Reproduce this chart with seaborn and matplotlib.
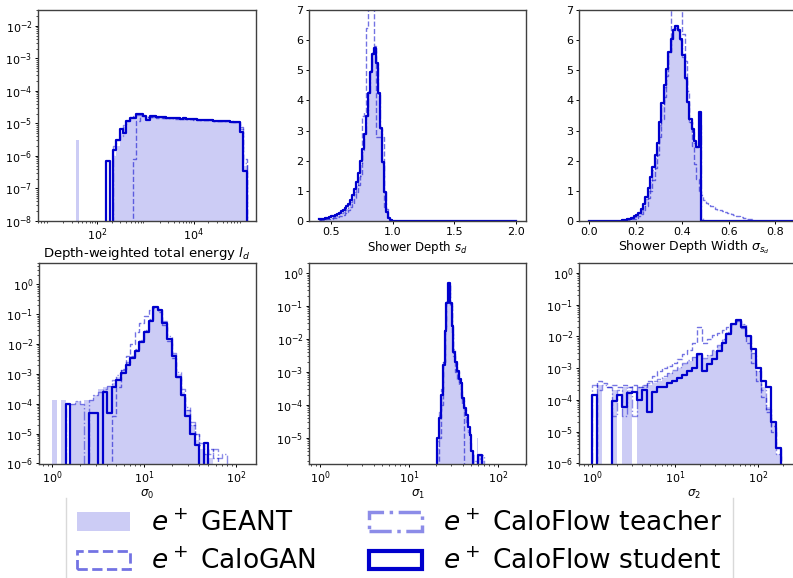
import numpy as np
import matplotlib
matplotlib.use("Agg")
import matplotlib.pyplot as plt
from matplotlib.patches import Patch
from matplotlib.lines import Line2D
import seaborn as sns

# ---- data (normalised histograms) ----
# panel 1: depth-weighted total energy l_d, log10 bin edges
ld_log_edges = np.linspace(1.566, 5.169, 53)
ld_geant = [3e-6, 0, 0, 0, 0, 0, 0, 0, 0,
            0, 0, 1e-6, 2e-6, 5e-6, 8e-6, 1.2e-5, 1.5e-5, 1.7e-5, 1.8e-5,
            1.85e-5, 1.75e-5, 1.6e-5, 1.65e-5, 1.6e-5, 1.57e-5, 1.55e-5, 1.52e-5, 1.5e-5, 1.47e-5,
            1.46e-5, 1.45e-5, 1.41e-5, 1.4e-5, 1.39e-5, 1.36e-5, 1.35e-5, 1.33e-5, 1.31e-5, 1.29e-5,
            1.28e-5, 1.26e-5, 1.24e-5, 1.22e-5, 1.21e-5, 1.2e-5, 1.18e-5, 1.17e-5, 1.15e-5, 1.13e-5,
            6e-6, 5e-7, 0]
ld_calogan = [0, 0, 0, 0, 0, 0, 0, 0, 0,
              0, 0, 0, 0, 0, 0, 0, 0, 8e-7, 1.2e-5,
              1.65e-5, 1.7e-5, 1.6e-5, 1.55e-5, 1.58e-5, 1.52e-5, 1.5e-5, 1.48e-5, 1.45e-5, 1.43e-5,
              1.42e-5, 1.4e-5, 1.38e-5, 1.36e-5, 1.35e-5, 1.33e-5, 1.32e-5, 1.3e-5, 1.28e-5, 1.27e-5,
              1.25e-5, 1.24e-5, 1.22e-5, 1.2e-5, 1.19e-5, 1.18e-5, 1.16e-5, 1.15e-5, 1.13e-5, 1.12e-5,
              8e-6, 8e-7, 0]
ld_teacher = [0, 0, 0, 0, 0, 0, 0, 0, 0,
              0, 0, 2e-6, 3e-6, 4e-6, 9e-6, 1.2e-5, 1.6e-5, 1.7e-5, 1.8e-5,
              1.8e-5, 1.7e-5, 1.6e-5, 1.62e-5, 1.6e-5, 1.56e-5, 1.54e-5, 1.52e-5, 1.49e-5, 1.47e-5,
              1.45e-5, 1.44e-5, 1.42e-5, 1.4e-5, 1.38e-5, 1.37e-5, 1.35e-5, 1.33e-5, 1.3e-5, 1.29e-5,
              1.27e-5, 1.25e-5, 1.23e-5, 1.22e-5, 1.2e-5, 1.19e-5, 1.17e-5, 1.16e-5, 1.14e-5, 1.12e-5,
              7e-6, 6e-7, 0]
ld_student = [0, 0, 0, 0, 0, 0, 0, 0, 0,
              7e-7, 0, 1.5e-6, 3e-6, 7e-6, 5e-6, 1.2e-5, 1.5e-5, 1.5e-5, 1.9e-5,
              2.0e-5, 1.75e-5, 1.3e-5, 1.75e-5, 1.65e-5, 1.6e-5, 1.55e-5, 1.57e-5, 1.5e-5, 1.48e-5,
              1.5e-5, 1.44e-5, 1.42e-5, 1.43e-5, 1.38e-5, 1.37e-5, 1.36e-5, 1.32e-5, 1.3e-5, 1.31e-5,
              1.27e-5, 1.25e-5, 1.22e-5, 1.23e-5, 1.2e-5, 1.18e-5, 1.19e-5, 1.15e-5, 1.14e-5, 1.12e-5,
              5.5e-6, 3.5e-7, 0]

# panel 2: shower depth s_d
sd_edges = np.append(np.linspace(0.4, 0.992, 38), 2.0)
sd_geant = [0.03, 0.04, 0.05, 0.06, 0.07, 0.08, 0.10, 0.12, 0.14, 0.17, 0.20, 0.24, 0.28,
            0.34, 0.40, 0.48, 0.58, 0.72, 0.90, 1.15, 1.45, 1.85, 2.30, 2.85, 3.50, 4.30,
            5.00, 5.60, 5.80, 5.20, 4.15, 3.00, 1.90, 0.95, 0.32, 0.10, 0.03, 0.0]
sd_calogan = [0.02, 0.03, 0.04, 0.05, 0.06, 0.07, 0.08, 0.09, 0.11, 0.13, 0.15, 0.18, 0.21,
              0.25, 0.30, 0.37, 0.46, 0.58, 0.75, 0.95, 1.20, 1.50, 3.50, 3.60, 6.40, 9.00,
              10.0, 9.00, 5.80, 2.80, 2.80, 2.80, 2.80, 0.45, 0.40, 0.0, 0.0, 0.0]
sd_teacher = [0.04, 0.05, 0.06, 0.07, 0.08, 0.10, 0.11, 0.13, 0.16, 0.19, 0.22, 0.26, 0.31,
              0.37, 0.44, 0.52, 0.63, 0.78, 0.96, 1.20, 1.50, 1.90, 2.35, 2.90, 3.50, 4.25,
              4.95, 5.55, 5.75, 5.20, 4.20, 3.05, 1.92, 0.96, 0.31, 0.10, 0.03, 0.0]
sd_student = [0.05, 0.07, 0.08, 0.10, 0.11, 0.13, 0.15, 0.17, 0.20, 0.23, 0.27, 0.32, 0.37,
              0.43, 0.50, 0.58, 0.70, 0.85, 1.05, 1.30, 1.60, 2.00, 2.40, 2.90, 3.50, 4.25,
              4.95, 5.55, 5.75, 5.25, 4.25, 3.10, 1.95, 0.97, 0.30, 0.10, 0.03, 0.0]

# panel 3: shower depth width
sw_edges = np.concatenate([[0.0], np.linspace(0.14, 0.71, 58), [0.9]])
sw_geant = [0.01,
            0.02, 0.03, 0.04, 0.06, 0.08, 0.12, 0.17, 0.24, 0.34, 0.48, 0.70, 0.95, 1.30, 1.65,
            2.05, 2.50, 3.15, 3.80, 4.45, 5.05, 5.65, 6.10, 6.40, 6.45, 6.30, 6.00, 5.45, 4.70,
            3.90, 3.30, 2.90, 2.60, 2.50, 3.00, 0.05,
            0, 0, 0, 0, 0, 0, 0, 0, 0, 0, 0, 0, 0, 0, 0, 0, 0, 0, 0, 0, 0, 0,
            0]
sw_calogan = [0.0,
              0.0, 0.01, 0.02, 0.03, 0.05, 0.07, 0.10, 0.15, 0.22, 0.35, 0.50, 0.75, 1.00, 1.35,
              1.75, 2.20, 2.80, 3.40, 4.10, 4.80, 5.60, 7.50, 7.80, 7.80, 7.60, 7.20, 6.20, 5.30,
              4.30, 3.30, 2.50, 1.90, 1.40, 1.00, 0.85,
              0.70, 0.60, 0.55, 0.50, 0.45, 0.40, 0.38, 0.35, 0.32, 0.30, 0.28, 0.25, 0.22, 0.20,
              0.18, 0.15, 0.12, 0.10, 0.09, 0.08, 0.06, 0.0,
              0]
sw_teacher = [0.01,
              0.02, 0.03, 0.05, 0.07, 0.09, 0.13, 0.18, 0.26, 0.36, 0.50, 0.72, 1.00, 1.35, 1.70,
              2.10, 2.55, 3.20, 3.85, 4.45, 5.05, 5.60, 6.05, 6.35, 6.40, 6.30, 6.00, 5.45, 4.70,
              3.90, 3.30, 2.95, 2.60, 2.45, 3.20, 0.10,
              0, 0, 0, 0, 0, 0, 0, 0, 0, 0, 0, 0, 0, 0, 0, 0, 0, 0, 0, 0, 0, 0,
              0]
sw_student = [0.01,
              0.03, 0.04, 0.06, 0.08, 0.11, 0.15, 0.20, 0.28, 0.40, 0.55, 0.80, 1.10, 1.45, 1.80,
              2.20, 2.60, 3.30, 3.90, 4.50, 5.05, 5.60, 6.05, 6.35, 6.47, 6.35, 6.05, 5.50, 4.75,
              3.95, 3.40, 3.05, 2.65, 2.45, 3.60, 0.0,
              0, 0, 0, 0, 0, 0, 0, 0, 0, 0, 0, 0, 0, 0, 0, 0, 0, 0, 0, 0, 0, 0,
              0]

# panel 4: sigma_0, log10 bin edges
s0_log_edges = np.linspace(0.0, 2.0, 41)
s0_geant = [1.3e-4, 0, 1.3e-4, 0, 1e-4, 1.2e-4, 1e-4, 1.3e-4, 1.3e-4, 2e-4,
            3e-4, 3.5e-4, 4e-4, 5e-4, 8e-4, 1.3e-3, 2.3e-3, 4e-3, 7e-3, 1.4e-2,
            3e-2, 7e-2, 1.7e-1, 1.4e-1, 5.5e-2, 1.6e-2, 4.5e-3, 1e-3, 2.5e-4, 6e-5,
            2e-5, 6e-6, 3e-6, 2e-6, 1.5e-6, 0, 0, 0, 0, 0]
s0_calogan = [0, 0, 0, 0, 0, 0, 0, 0, 0, 0,
              0, 0, 0, 4e-5, 3.5e-4, 1.5e-3, 4e-3, 1e-2, 2.5e-2, 5e-2,
              9e-2, 1.4e-1, 1.8e-1, 1.2e-1, 4.5e-2, 1.3e-2, 3.5e-3, 8e-4, 2e-4, 6e-5,
              2e-5, 1e-5, 4e-6, 2e-6, 3e-6, 1.5e-6, 0, 0, 0, 0]
s0_teacher = [0, 0, 0, 1e-4, 1e-4, 1.2e-4, 1e-4, 0, 1.3e-4, 2e-4,
              2.5e-4, 3e-4, 4e-4, 6e-4, 9e-4, 1.4e-3, 2.5e-3, 4e-3, 7e-3, 1.4e-2,
              3e-2, 7e-2, 1.6e-1, 1.4e-1, 6e-2, 1.8e-2, 5e-3, 1.2e-3, 3e-4, 8e-5,
              2.5e-5, 1e-5, 5e-6, 3e-6, 2e-6, 3e-6, 1.5e-6, 2e-6, 0, 0]
s0_student = [0, 0, 0, 1e-4, 0, 0, 0, 0, 5e-5, 5e-5,
              0, 2.5e-4, 5e-5, 3.5e-4, 6e-4, 1.1e-3, 2e-3, 3.5e-3, 6e-3, 1.2e-2,
              2.5e-2, 6e-2, 1.7e-1, 1.4e-1, 5e-2, 1.5e-2, 4e-3, 8e-4, 2e-4, 4e-5,
              1e-5, 4e-6, 0, 5e-6, 0, 0, 0, 0, 0, 0]

# panel 5: sigma_1, log10 bin edges
s1_log_edges = np.linspace(1.30, 1.86, 29)
s1_geant = [0, 5e-6, 5e-5, 3e-4, 2e-3, 2e-2, 1.3e-1, 4.5e-1, 1.3e-1, 2.5e-2,
            5e-3, 2e-3, 1e-3, 5e-4, 3e-4, 1.5e-4, 7e-5, 3.5e-5, 1.5e-5, 8e-6,
            4e-6, 3e-6, 0, 1e-5, 3e-6, 3e-6, 2e-6, 0]
s1_calogan = [0, 0, 1e-5, 1e-4, 2e-3, 2e-2, 1.5e-1, 5e-1, 1e-1, 1.5e-2,
              3e-3, 1e-3, 6e-4, 4e-4, 2e-4, 1e-4, 0, 0, 0, 0,
              0, 0, 0, 0, 0, 0, 0, 0]
s1_teacher = [0, 8e-6, 6e-5, 3e-4, 2e-3, 2e-2, 1.3e-1, 4.5e-1, 1.2e-1, 2.5e-2,
              5e-3, 2e-3, 1e-3, 5e-4, 3e-4, 1.5e-4, 7e-5, 3e-5, 1.5e-5, 7e-6,
              4e-6, 0, 2e-6, 0, 3e-6, 2e-6, 3e-6, 0]
s1_student = [0, 1e-5, 4e-5, 2e-4, 1.6e-3, 1.7e-2, 1.2e-1, 5e-1, 1.2e-1, 2.4e-2,
              4e-3, 2e-3, 1.1e-3, 6e-4, 4.6e-4, 1.6e-4, 8e-5, 5e-5, 2.2e-5, 1.2e-5,
              4e-6, 0, 0, 0, 3e-6, 3e-6, 0, 0]

# panel 6: sigma_2, log10 bin edges
s2_log_edges = np.linspace(-0.06, 2.34, 41)
s2_geant = [0, 0, 3e-4, 0, 0, 2e-4, 0, 2.5e-4, 2e-4, 0,
            2.5e-4, 3e-4, 3e-4, 3.5e-4, 4e-4, 5e-4, 7e-4, 8e-4, 1e-3, 1.3e-3,
            1.7e-3, 2.2e-3, 2.5e-3, 2e-3, 2.5e-3, 3.5e-3, 5e-3, 8e-3, 1.4e-2, 2.4e-2,
            3.2e-2, 2.5e-2, 1e-2, 3e-3, 8e-4, 2.5e-4, 6e-5, 2e-5, 2e-6, 0]
s2_calogan = [0, 0, 4e-4, 3.5e-4, 2.5e-4, 3e-4, 2.5e-4, 3e-4, 2.5e-4, 3e-4,
              2.5e-4, 2.5e-4, 4e-4, 5.5e-4, 8e-4, 1e-3, 1.2e-3, 1.5e-3, 2e-3, 2.7e-3,
              3.7e-3, 6e-3, 2e-2, 6e-3, 8e-3, 1.1e-2, 1.3e-2, 1.6e-2, 2e-2, 2.5e-2,
              3e-2, 1.8e-2, 6e-3, 1.5e-3, 4e-4, 1.2e-4, 4e-5, 1e-5, 3e-6, 0]
s2_teacher = [0, 3e-4, 2e-4, 3e-4, 2.5e-4, 3e-5, 2e-4, 3e-5, 2.5e-4, 3e-5,
              2.5e-4, 3e-4, 3.5e-4, 4e-4, 4.5e-4, 5.5e-4, 7e-4, 9e-4, 1.1e-3, 1.4e-3,
              1.8e-3, 2.3e-3, 2.6e-3, 2.1e-3, 2.6e-3, 3.6e-3, 5.5e-3, 8.5e-3, 1.4e-2, 2.4e-2,
              3.1e-2, 2.4e-2, 1e-2, 3e-3, 8e-4, 2e-4, 5e-5, 1.5e-5, 2e-6, 0]
s2_student = [0, 1.4e-4, 0, 0, 0, 9e-5, 1.4e-4, 6e-5, 1.6e-4, 1.8e-4,
              1e-4, 2e-4, 4e-5, 1.7e-4, 2.5e-4, 2.5e-4, 3.5e-4, 4e-4, 5e-4, 6e-4,
              8e-4, 1e-3, 2.7e-3, 8e-4, 1.3e-3, 2e-3, 3.5e-3, 6e-3, 1.2e-2, 2.5e-2,
              3.3e-2, 2e-2, 1e-2, 4e-3, 1e-3, 4e-4, 2.5e-4, 2e-5, 3e-6, 0]

labels = [r"$e^+$ GEANT", r"$e^+$ CaloGAN", r"$e^+$ CaloFlow teacher", r"$e^+$ CaloFlow student"]

BLUE = "mediumblue"
W, H = 793, 578


def draw_panel(ax, edges, geant, calogan, teacher, student):
    edges = np.asarray(edges)
    mids = (edges[:-1] + edges[1:]) / 2
    bins = list(edges)
    sns.histplot(x=mids, weights=geant, bins=bins, element="step", fill=True,
                 color=BLUE, alpha=0.2, linewidth=0, ax=ax)
    sns.histplot(x=mids, weights=calogan, bins=bins, element="step", fill=False,
                 color=BLUE, alpha=0.55, linewidth=1, linestyle="--", ax=ax)
    sns.histplot(x=mids, weights=teacher, bins=bins, element="step", fill=False,
                 color=BLUE, alpha=0.45, linewidth=1, linestyle="-.", ax=ax)
    sns.histplot(x=mids, weights=student, bins=bins, element="step", fill=False,
                 color=BLUE, linewidth=1.6, ax=ax)
    ax.set_ylabel("")
    ax.tick_params(which="major", labelsize=8, length=2.5, width=0.7, pad=1.5)
    ax.tick_params(which="minor", length=1.5, width=0.5)
    for sp in ax.spines.values():
        sp.set_color("0.25")
        sp.set_linewidth(1.0)


def px_axes(fig, left, top, right, bottom):
    return fig.add_axes([left / W, 1 - bottom / H, (right - left) / W, (bottom - top) / H])


fig = plt.figure(figsize=(W / 100, H / 100), dpi=100)

ax1 = px_axes(fig, 38, 10, 256, 221)
ax2 = px_axes(fig, 309, 10, 526, 221)
ax3 = px_axes(fig, 579, 10, 809, 221)
ax4 = px_axes(fig, 39, 263, 256, 464)
ax5 = px_axes(fig, 309, 263, 526, 464)
ax6 = px_axes(fig, 579, 263, 809, 464)

draw_panel(ax1, 10 ** ld_log_edges, ld_geant, ld_calogan, ld_teacher, ld_student)
ax1.set_xscale("log")
ax1.set_yscale("log")
ax1.set_xlim(10 ** 0.778, 10 ** 5.292)
ax1.set_ylim(1e-8, 3.1e-2)
ax1.set_xticks([1e2, 1e4])
ax1.set_xlabel("Depth-weighted total energy $l_d$", fontsize=9.5, labelpad=1.5)

draw_panel(ax2, sd_edges, sd_geant, sd_calogan, sd_teacher, sd_student)
ax2.set_xlim(0.32, 2.08)
ax2.set_ylim(0, 7)
ax2.set_xlabel("Shower Depth $s_d$", fontsize=8.5, labelpad=1.5)

draw_panel(ax3, sw_edges, sw_geant, sw_calogan, sw_teacher, sw_student)
ax3.set_xlim(-0.045, 0.945)
ax3.set_ylim(0, 7)
ax3.set_xticks([0.0, 0.2, 0.4, 0.6, 0.8])
ax3.set_xlabel(r"Shower Depth Width $\sigma_{s_d}$", fontsize=9, labelpad=1.5)

draw_panel(ax4, 10 ** s0_log_edges, s0_geant, s0_calogan, s0_teacher, s0_student)
ax4.set_xscale("log")
ax4.set_yscale("log")
ax4.set_xlim(10 ** -0.141, 10 ** 2.217)
ax4.set_ylim(10 ** -6.02, 10 ** 0.715)
ax4.set_xlabel(r"$\sigma_0$", fontsize=8.5, labelpad=1.5)

draw_panel(ax5, 10 ** s1_log_edges, s1_geant, s1_calogan, s1_teacher, s1_student)
ax5.set_xscale("log")
ax5.set_yscale("log")
ax5.set_xlim(10 ** -0.124, 10 ** 2.315)
ax5.set_ylim(10 ** -5.79, 10 ** 0.303)
ax5.set_xlabel(r"$\sigma_1$", fontsize=8.5, labelpad=1.5)

draw_panel(ax6, 10 ** s2_log_edges, s2_geant, s2_calogan, s2_teacher, s2_student)
ax6.set_xscale("log")
ax6.set_yscale("log")
ax6.set_xlim(10 ** -0.157, 10 ** 2.614)
ax6.set_ylim(10 ** -6.025, 10 ** 0.315)
ax6.set_xlabel(r"$\sigma_2$", fontsize=8.5, labelpad=1.5)

handles = [
    Patch(facecolor=BLUE, alpha=0.2, edgecolor="none"),
    Patch(fill=False, edgecolor=BLUE, alpha=0.55, linestyle="--", linewidth=2),
    Patch(fill=False, edgecolor=BLUE, alpha=0.45, linestyle="-.", linewidth=2.5),
    Patch(fill=False, edgecolor=BLUE, linestyle="-", linewidth=3),
]
fig.legend(handles, labels, loc="upper center", bbox_to_anchor=(399.5 / W, 1 - 500 / H),
           ncol=2, fontsize=19, labelspacing=0.45, borderaxespad=0, frameon=False)

# legend box sides (its top edge is not visible in the reference)
for xpx in (66, 733):
    fig.add_artist(Line2D([xpx / W, xpx / W], [0, 1 - 498 / H], transform=fig.transFigure,
                          color="0.85", linewidth=1))

fig.savefig("out.png", dpi=100)
